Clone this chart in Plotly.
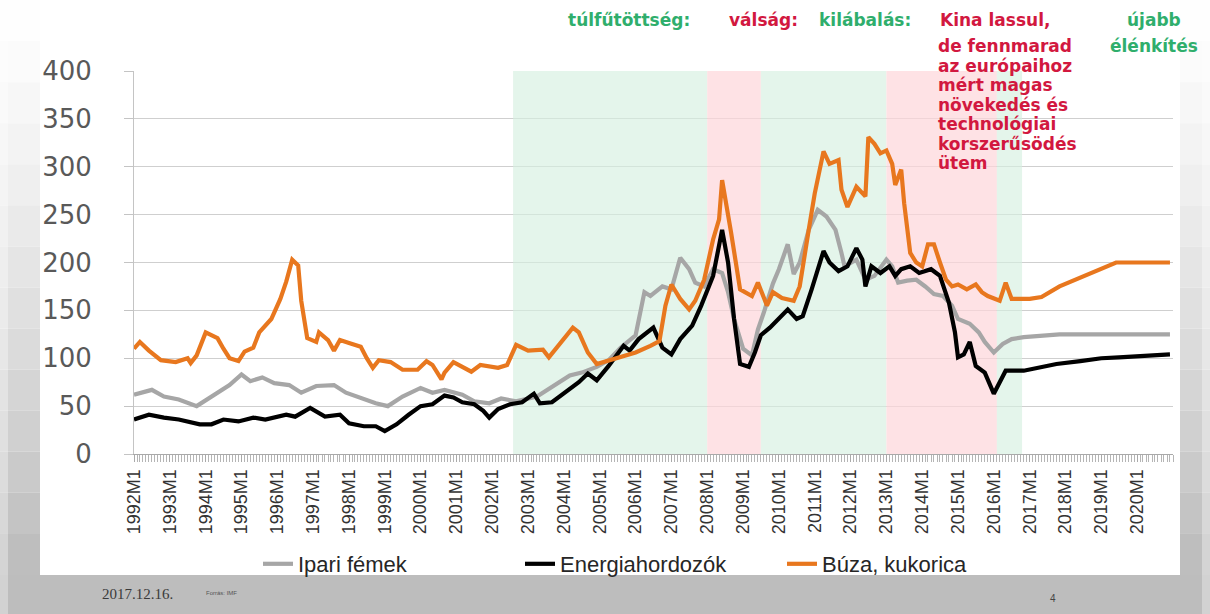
import plotly.graph_objects as go

# ---------------- data ----------------
ipari_dates = ["1992-01", "1992-07", "1992-11", "1993-04", "1993-10", "1994-03", "1994-09", "1995-01",
               "1995-04", "1995-08", "1995-12", "1996-05", "1996-09", "1997-02", "1997-08", "1997-12",
               "1998-06", "1998-10", "1999-02", "1999-07", "2000-01", "2000-05", "2000-09", "2001-03",
               "2001-07", "2001-12", "2002-04", "2002-09", "2003-04", "2003-10", "2004-03", "2004-07",
               "2004-12", "2005-04", "2005-08", "2006-01", "2006-04", "2006-06", "2006-10", "2007-01",
               "2007-04", "2007-07", "2007-09", "2007-12", "2008-03", "2008-06", "2008-08", "2008-10",
               "2009-01", "2009-04", "2009-06", "2009-08", "2009-11", "2010-01", "2010-04", "2010-06",
               "2010-08", "2010-11", "2011-02", "2011-05", "2011-08", "2011-10", "2011-11", "2012-03",
               "2012-06", "2012-09", "2013-01", "2013-03", "2013-05", "2013-08", "2013-11", "2014-02",
               "2014-05", "2014-08", "2014-11", "2015-01", "2015-05", "2015-08", "2015-10", "2016-01",
               "2016-04", "2016-07", "2016-11", "2017-11", "2018-06", "2020-12"]
ipari_values = [62, 67, 60, 57, 50, 60, 72, 83,
                76, 80, 74, 72, 64, 71, 72, 64,
                57, 53, 50, 60, 69, 64, 67, 62,
                55, 53, 58, 55, 60, 72, 82, 85,
                91, 98, 111, 124, 169, 165, 175, 172,
                205, 193, 179, 175, 193, 189, 169, 141,
                110, 103, 130, 148, 178, 193, 219, 188,
                200, 234, 255, 248, 234, 210, 196, 203,
                182, 186, 203, 196, 179, 181, 182, 175,
                167, 165, 155, 141, 136, 127, 117, 106,
                115, 120, 122, 125, 125, 125]

energia_dates = ["1992-01", "1992-06", "1992-11", "1993-04", "1993-11", "1994-03", "1994-07", "1994-12",
                 "1995-05", "1995-09", "1996-04", "1996-07", "1996-12", "1997-05", "1997-10", "1998-01",
                 "1998-06", "1998-10", "1999-01", "1999-05", "1999-09", "2000-01", "2000-05", "2000-09",
                 "2000-12", "2001-03", "2001-07", "2001-10", "2001-12", "2002-03", "2002-07", "2002-11",
                 "2003-03", "2003-05", "2003-09", "2004-02", "2004-06", "2004-09", "2004-12", "2005-04",
                 "2005-09", "2005-11", "2006-02", "2006-07", "2006-10", "2007-01", "2007-04", "2007-08",
                 "2007-11", "2008-03", "2008-06", "2008-08", "2008-10", "2008-12", "2009-03", "2009-05",
                 "2009-07", "2009-10", "2010-01", "2010-04", "2010-07", "2010-09", "2010-12", "2011-04",
                 "2011-06", "2011-09", "2011-12", "2012-03", "2012-05", "2012-06", "2012-08", "2012-11",
                 "2013-02", "2013-04", "2013-06", "2013-09", "2013-12", "2014-04", "2014-07", "2014-10",
                 "2014-12", "2015-01", "2015-03", "2015-05", "2015-07", "2015-10", "2016-01", "2016-03",
                 "2016-05", "2016-11", "2017-10", "2018-06", "2019-01", "2019-07", "2020-01", "2020-12"]
energia_values = [36, 41, 38, 36, 31, 31, 36, 34,
                  38, 36, 41, 39, 48, 39, 41, 32,
                  29, 29, 24, 31, 41, 50, 52, 61,
                  59, 54, 52, 45, 38, 47, 52, 54,
                  63, 53, 54, 65, 75, 84, 77, 92,
                  113, 108, 120, 132, 111, 104, 120, 134,
                  155, 186, 234, 200, 141, 94, 91, 106,
                  124, 132, 142, 151, 141, 144, 172, 212,
                  200, 191, 196, 215, 203, 175, 196, 189,
                  196, 186, 193, 196, 189, 193, 186, 158,
                  127, 101, 104, 117, 92, 85, 63, 75,
                  87, 87, 94, 97, 100, 101, 102, 104]

buza_dates = ["1992-01", "1992-03", "1992-06", "1992-10", "1993-03", "1993-07", "1993-08", "1993-10",
              "1994-01", "1994-05", "1994-07", "1994-09", "1994-12", "1995-02", "1995-05", "1995-07",
              "1995-11", "1996-02", "1996-04", "1996-06", "1996-08", "1996-09", "1996-11", "1997-02",
              "1997-03", "1997-06", "1997-08", "1997-10", "1998-01", "1998-05", "1998-07", "1998-09",
              "1998-11", "1999-03", "1999-07", "1999-12", "2000-03", "2000-05", "2000-08", "2000-09",
              "2000-12", "2001-03", "2001-06", "2001-09", "2001-12", "2002-03", "2002-06", "2002-09",
              "2003-01", "2003-06", "2003-08", "2003-11", "2004-04", "2004-06", "2004-09", "2004-12",
              "2005-04", "2005-09", "2006-01", "2006-06", "2006-09", "2006-11", "2007-01", "2007-04",
              "2007-07", "2007-09", "2007-12", "2008-03", "2008-05", "2008-06", "2008-08", "2008-09",
              "2008-12", "2009-02", "2009-04", "2009-06", "2009-09", "2009-11", "2010-02", "2010-06",
              "2010-08", "2010-11", "2011-01", "2011-04", "2011-06", "2011-09", "2011-10", "2011-12",
              "2012-03", "2012-06", "2012-07", "2012-09", "2012-11", "2013-01", "2013-03", "2013-04",
              "2013-06", "2013-07", "2013-09", "2013-11", "2014-01", "2014-03", "2014-05", "2014-07",
              "2014-09", "2014-11", "2015-01", "2015-04", "2015-07", "2015-09", "2015-11", "2016-03",
              "2016-05", "2016-07", "2017-01", "2017-05", "2017-11", "2019-06", "2020-12"]
buza_values = [110, 117, 108, 98, 96, 100, 95, 103,
               127, 121, 110, 100, 97, 107, 111, 127,
               141, 162, 180, 203, 197, 160, 121, 117,
               127, 119, 108, 119, 116, 112, 100, 90,
               98, 96, 88, 88, 97, 93, 78, 85,
               96, 91, 86, 93, 91, 90, 93, 114,
               108, 109, 101, 113, 132, 127, 106, 94,
               98, 103, 106, 113, 118, 155, 177, 162,
               151, 160, 182, 224, 245, 286, 245, 231,
               172, 169, 165, 179, 155, 169, 163, 160,
               175, 234, 272, 316, 303, 307, 276, 258,
               279, 269, 331, 324, 314, 317, 303, 281,
               297, 262, 210, 200, 196, 219, 219, 200,
               182, 175, 177, 172, 177, 169, 165, 160,
               179, 162, 162, 164, 175, 200, 200]

series_names = ["Ipari fémek", "Energiahordozók", "Búza, kukorica"]

# shaded phases (start, end, kind)
phase_starts = ["2002-08-01", "2008-01-01", "2009-07-01", "2013-01-01", "2016-02-01"]
phase_ends = ["2008-01-01", "2009-07-01", "2013-01-01", "2016-02-01", "2016-10-15"]
phase_kinds = ["green", "red", "green", "red", "green"]

tick_years = list(range(1992, 2021))
tick_labels = [f"{y}M1" for y in tick_years]
y_ticks = [0, 50, 100, 150, 200, 250, 300, 350, 400]

header_texts = ["túlfűtöttség:", "válság:", "kilábalás:", "Kina lassul,", "újabb", "élénkítés"]
china_lines = ["de fennmarad", "az európaihoz", "mért magas", "növekedés és",
               "technológiai", "korszerűsödés", "ütem"]

# ---------------- styling ----------------
W, H = 1210, 614
PL, PR, PT, PB = 134, 1173, 71, 454  # plot area in pixels


def fx(x):
    return (x - PL) / (PR - PL)


def fy(y):
    return (PB - y) / (PB - PT)


GREEN_TXT = "#2fae6c"
RED_TXT = "#d2183f"
SHADE = {"green": "rgba(214,240,224,0.65)", "red": "rgba(253,214,218,0.7)"}
LINE_COLORS = ["#a6a6a6", "#000000", "#e8771e"]

fig = go.Figure()

for name, dates, vals, col in zip(series_names,
                                  [ipari_dates, energia_dates, buza_dates],
                                  [ipari_values, energia_values, buza_values],
                                  LINE_COLORS):
    fig.add_trace(go.Scatter(
        x=[d + "-01" for d in dates], y=vals, name=name, mode="lines",
        line=dict(color=col, width=4.2), hoverinfo="x+y+name"))

shapes = []
for s, e, k in zip(phase_starts, phase_ends, phase_kinds):
    shapes.append(dict(type="rect", xref="x", yref="y", x0=s, x1=e, y0=0, y1=400,
                       fillcolor=SHADE[k], line=dict(width=0), layer="between"))

# slide decoration: gray frame with gradient on left/right, gray band at bottom
n = 14
for i in range(n):
    y0 = i * 575 / n
    y1 = (i + 1) * 575 / n
    t = (i + 0.5) / n
    g_in = int(255 - 68 * t ** 1.3)
    g_out = int(255 - 45 * t ** 1.3)
    for (xa, xb, g) in [(8, 40, g_in), (0, 8, g_out), (1180, 1202, g_in), (1202, 1210, g_out)]:
        shapes.append(dict(type="rect", xref="paper", yref="paper",
                           x0=fx(xa), x1=fx(xb), y0=fy(y1), y1=fy(y0),
                           fillcolor=f"rgb({g},{g},{g})", line=dict(width=0), layer="below"))
shapes.append(dict(type="rect", xref="paper", yref="paper", x0=fx(8), x1=fx(1202),
                   y0=fy(614), y1=fy(575), fillcolor="#bdbdbd", line=dict(width=0), layer="below"))
shapes.append(dict(type="rect", xref="paper", yref="paper", x0=fx(0), x1=fx(8),
                   y0=fy(614), y1=fy(575), fillcolor="#d2d2d2", line=dict(width=0), layer="below"))
shapes.append(dict(type="rect", xref="paper", yref="paper", x0=fx(1202), x1=fx(1210),
                   y0=fy(614), y1=fy(575), fillcolor="#d2d2d2", line=dict(width=0), layer="below"))

HFONT = "DejaVu Sans, Verdana, sans-serif"
HSIZE = 17
ann = []
header_pos = [(629, "center", GREEN_TXT), (763, "center", RED_TXT), (865, "center", GREEN_TXT),
              (938, "left", RED_TXT), (1154, "center", GREEN_TXT)]
for txt, (x, anchor, col) in zip(header_texts[:5], header_pos):
    ann.append(dict(text=f"<b>{txt}</b>", x=fx(x), y=fy(20), xref="paper", yref="paper",
                    xanchor=anchor, yanchor="middle", showarrow=False,
                    font=dict(family=HFONT, size=HSIZE, color=col)))
ann.append(dict(text=f"<b>{header_texts[5]}</b>", x=fx(1154), y=fy(46), xref="paper", yref="paper",
                xanchor="center", yanchor="middle", showarrow=False,
                font=dict(family=HFONT, size=HSIZE, color=GREEN_TXT)))
for i, line in enumerate(china_lines):
    ann.append(dict(text=f"<b>{line}</b>", x=fx(936), y=fy(46 + i * 19.5), xref="paper", yref="paper",
                    xanchor="left", yanchor="middle", showarrow=False,
                    font=dict(family=HFONT, size=HSIZE, color=RED_TXT)))
# footer
ann.append(dict(text="2017.12.16.", x=fx(100), y=fy(594), xref="paper", yref="paper",
                xanchor="left", yanchor="middle", showarrow=False,
                font=dict(family="Liberation Serif, Times New Roman, serif", size=15, color="#3a3a3a")))
ann.append(dict(text="Forrás: IMF", x=fx(204), y=fy(593), xref="paper", yref="paper",
                xanchor="left", yanchor="middle", showarrow=False,
                font=dict(family="Liberation Sans, Arial, sans-serif", size=6, color="#555555")))
ann.append(dict(text="4", x=fx(1053), y=fy(598), xref="paper", yref="paper",
                xanchor="center", yanchor="middle", showarrow=False,
                font=dict(family="Liberation Sans, Arial, sans-serif", size=10, color="#444444")))

fig.update_layout(
    width=W, height=H,
    template="none",
    paper_bgcolor="white", plot_bgcolor="rgba(0,0,0,0)",
    margin=dict(l=PL, r=W - PR, t=PT, b=H - PB, pad=0),
    shapes=shapes, annotations=ann,
    showlegend=True,
    legend=dict(orientation="h", x=fx(258), y=fy(564), xanchor="left", yanchor="middle",
                font=dict(family="Liberation Sans, Arial, sans-serif", size=22, color="#262626"),
                bgcolor="rgba(0,0,0,0)", itemwidth=30, tracegroupgap=0,
                entrywidth=217, entrywidthmode="pixels"),
    xaxis=dict(type="date", range=["1992-01-01", "2021-01-01"], automargin=False,
               tickmode="array", tickvals=[f"{y}-01-01" for y in tick_years], ticktext=tick_labels,
               tickangle=-90, ticks="outside", ticklen=7, tickcolor="#a9a9a9", tickwidth=1,
               minor=dict(dtick="M1", tick0="1992-01-01", ticks="outside", ticklen=7,
                          tickcolor="#b5b5b5", tickwidth=1, showgrid=False),
               showgrid=False, showline=True, linecolor="#a9a9a9", linewidth=1,
               tickfont=dict(family="Liberation Sans, Arial, sans-serif", size=18, color="#333333"),
               zeroline=False),
    yaxis=dict(range=[0, 400], tickvals=y_ticks, automargin=False,
               ticks="outside", ticklen=9, tickcolor="#c4c4c4",
               showgrid=True, gridcolor="#cfcfcf", gridwidth=1,
               showline=True, linecolor="#c4c4c4", linewidth=1, zeroline=False,
               ticklabelstandoff=27,
               tickfont=dict(family="DejaVu Sans, Verdana, sans-serif", size=26, color="#595959")),
)

fig.write_html("out.html", config={"displayModeBar": False},
               post_script="document.body.style.margin='0';document.body.style.overflow='hidden';")
